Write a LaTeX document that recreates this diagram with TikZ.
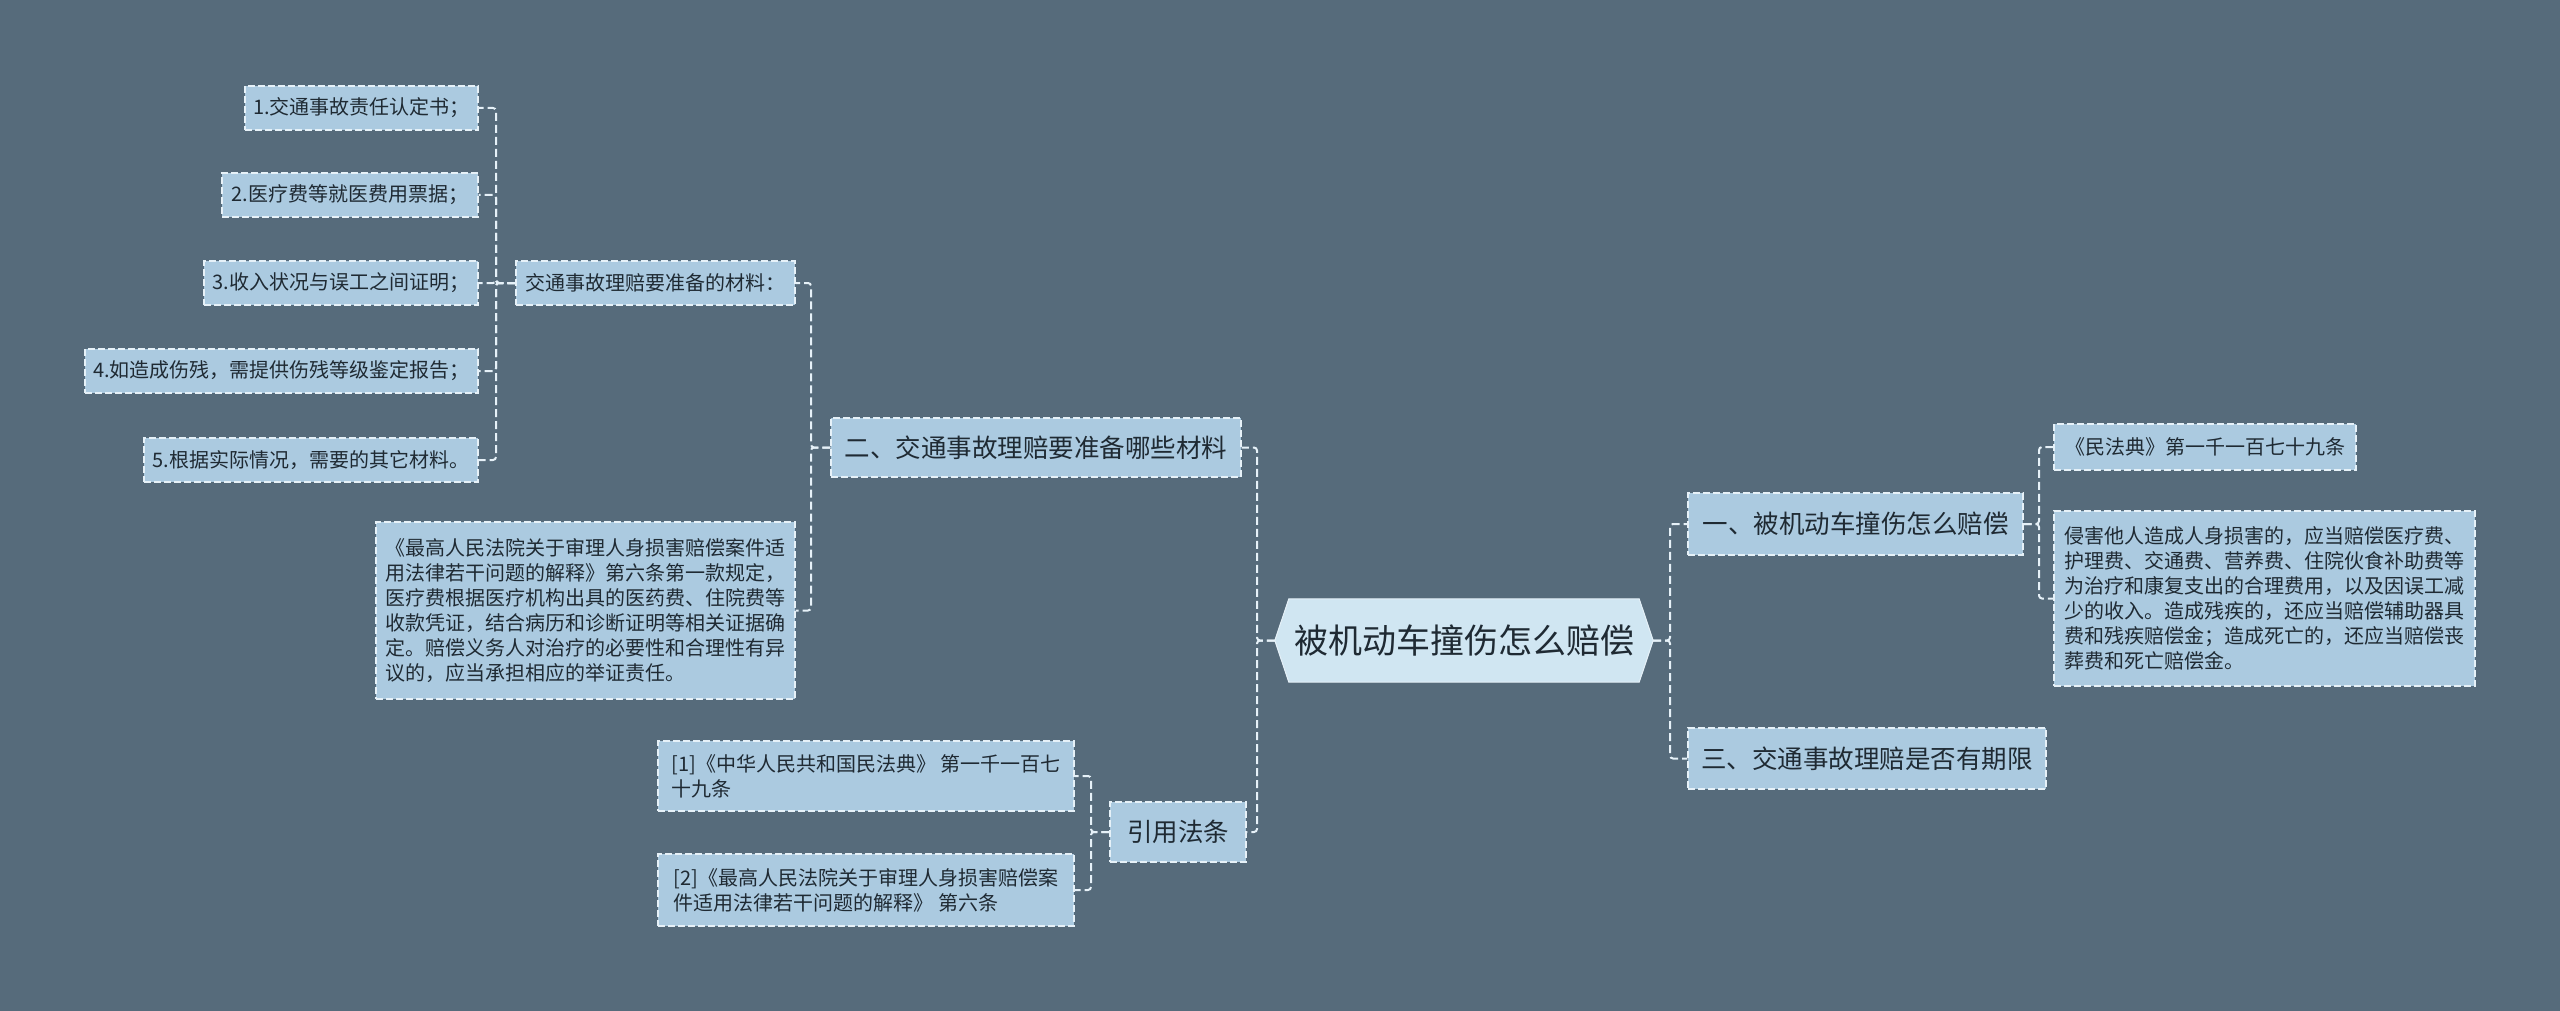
\documentclass[tikz,border=0pt]{standalone}
\usepackage{fontspec}
\newfontfamily\cjk{Noto Sans CJK SC}
\usetikzlibrary{calc,backgrounds}
\definecolor{bg}{HTML}{566B7B}
\definecolor{leaf}{HTML}{ABCAE0}
\definecolor{ctr}{HTML}{D0E6F2}
\definecolor{txt}{HTML}{1F2A33}
\definecolor{edge}{HTML}{E6F1F8}
\begin{document}
\begin{tikzpicture}[x=1pt,y=-1pt,
  box/.style={fill=leaf, draw=edge, line width=1.3pt, dash pattern=on 7pt off 3pt,
    text=txt, font=\cjk\fontsize{20}{25}\selectfont, inner sep=0pt, align=left, anchor=center},
  mainbox/.style={box, font=\cjk\fontsize{25.5}{30}\selectfont},
  conn/.style={draw=edge, line width=2pt, dash pattern=on 8pt off 4pt, rounded corners=3pt}]
\useasboundingbox (0,0) rectangle (2560,1011);
\begin{scope}[on background layer]
\fill[bg] (0,0) rectangle (2560,1011);
\end{scope}

% center
\node[text=txt, font=\cjk\fontsize{34}{40}\selectfont, minimum width=350pt, minimum height=83pt, inner sep=0pt] (c) at (1464,640.5) {被机动车撞伤怎么赔偿};
\coordinate (cW) at ($(c.west)+(-14,0)$);
\coordinate (cE) at ($(c.east)+(14,0)$);
\begin{scope}[on background layer]
\filldraw[fill=ctr, draw=edge, line width=1pt] (c.north west) -- (c.north east) -- (cE) -- (c.south east) -- (c.south west) -- (cW) -- cycle;
\end{scope}

% level 1
\node[mainbox, minimum width=410pt, minimum height=59pt] (n2) at (1036,447.5) {二、交通事故理赔要准备哪些材料};
\node[mainbox, minimum width=136pt, minimum height=60pt] (n4) at (1178,832) {引用法条};
\node[mainbox, minimum width=335pt, minimum height=62pt] (n1) at (1855.5,524) {一、被机动车撞伤怎么赔偿};
\node[mainbox, minimum width=358pt, minimum height=61pt] (n3) at (1867,758.5) {三、交通事故理赔是否有期限};

% level 2 left
\node[box, minimum width=279pt, minimum height=44pt] (m) at (655.5,283) {交通事故理赔要准备的材料：};
\node[box, minimum width=419pt, minimum height=177pt] (L) at (585.5,610.5) {《最高人民法院关于审理人身损害赔偿案件适\\用法律若干问题的解释》第六条第一款规定，\\医疗费根据医疗机构出具的医药费、住院费等\\收款凭证，结合病历和诊断证明等相关证据确\\定。赔偿义务人对治疗的必要性和合理性有异\\议的，应当承担相应的举证责任。};

% leaves of m
\node[box, minimum width=233pt, minimum height=44pt] (b1) at (361.5,108) {1.交通事故责任认定书；};
\node[box, minimum width=256pt, minimum height=44pt] (b2) at (350,195) {2.医疗费等就医费用票据；};
\node[box, minimum width=274pt, minimum height=44pt] (b3) at (341,283) {3.收入状况与误工之间证明；};
\node[box, minimum width=393pt, minimum height=44pt] (b4) at (281.5,371) {4.如造成伤残，需提供伤残等级鉴定报告；};
\node[box, minimum width=334pt, minimum height=44pt] (b5) at (311,460) {5.根据实际情况，需要的其它材料。};

% leaves of n4
\node[box, minimum width=416pt, minimum height=70pt] (r1) at (866,776) {[1]《中华人民共和国民法典》 第一千一百七\\十九条};
\node[box, minimum width=416pt, minimum height=72pt] (r2) at (866,890) {[2]《最高人民法院关于审理人身损害赔偿案\\件适用法律若干问题的解释》 第六条};

% leaves of n1
\node[box, minimum width=302pt, minimum height=46pt] (s1) at (2205,447) {《民法典》第一千一百七十九条};
\node[box, minimum width=421pt, minimum height=175pt] (s2) at (2264.5,598.5) {侵害他人造成人身损害的，应当赔偿医疗费、\\护理费、交通费、营养费、住院伙食补助费等\\为治疗和康复支出的合理费用，以及因误工减\\少的收入。造成残疾的，还应当赔偿辅助器具\\费和残疾赔偿金；造成死亡的，还应当赔偿丧\\葬费和死亡赔偿金。};

% connectors
\coordinate (xa) at (496,0);
\coordinate (xb) at (811,0);
\coordinate (xc) at (1257,0);
\coordinate (xd) at (1091,0);
\coordinate (xe) at (1670,0);
\coordinate (xf) at (2039,0);

\foreach \k in {b1,b2,b3,b4,b5} \draw[conn] (m.west) -- (xa |- m.west) |- (\k.east);
\foreach \k in {m,L} \draw[conn] (n2.west) -- (xb |- n2.west) |- (\k.east);
\foreach \k in {n2,n4} \draw[conn] (cW) -- (xc |- cW) |- (\k.east);
\foreach \k in {r1,r2} \draw[conn] (n4.west) -- (xd |- n4.west) |- (\k.east);
\foreach \k in {n1,n3} \draw[conn] (cE) -- (xe |- cE) |- (\k.west);
\foreach \k in {s1,s2} \draw[conn] (n1.east) -- (xf |- n1.east) |- (\k.west);
\end{tikzpicture}
\end{document}
